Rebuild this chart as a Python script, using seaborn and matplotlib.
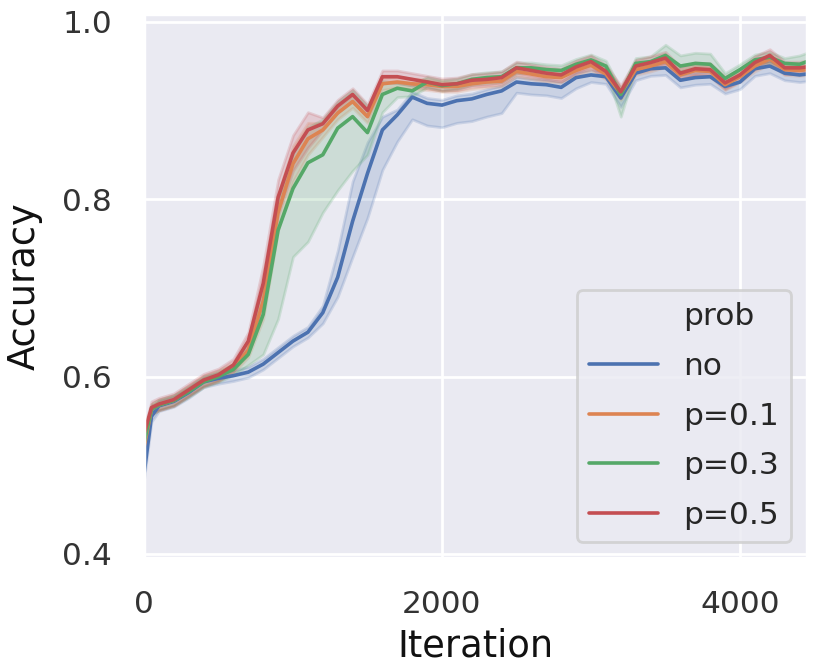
import matplotlib
matplotlib.use("Agg")
import matplotlib.pyplot as plt
from matplotlib.lines import Line2D
import pandas as pd
import seaborn as sns

# values
iterations = [0, 50, 100, 200, 300, 400, 500, 600, 700, 800, 900, 1000, 1100, 1200,
              1300, 1400, 1500, 1600, 1700, 1800, 1900, 2000, 2100, 2200, 2300, 2400,
              2500, 2600, 2700, 2800, 2900, 3000, 3100, 3200, 3300, 3400, 3500, 3600,
              3700, 3800, 3900, 4000, 4100, 4200, 4300, 4400, 4450]
probs = ["no", "p=0.1", "p=0.3", "p=0.5"]

no_mid = [0.490, 0.555, 0.567, 0.572, 0.582, 0.594, 0.598, 0.601, 0.605, 0.614, 0.627, 0.640,
          0.650, 0.672, 0.712, 0.775, 0.829, 0.878, 0.895, 0.915, 0.908, 0.906, 0.911, 0.913,
          0.918, 0.922, 0.932, 0.930, 0.929, 0.926, 0.937, 0.940, 0.938, 0.914, 0.942, 0.947,
          0.948, 0.934, 0.937, 0.938, 0.927, 0.932, 0.947, 0.950, 0.942, 0.940, 0.941]
no_lo = [0.484, 0.549, 0.561, 0.566, 0.576, 0.588, 0.592, 0.595, 0.599, 0.608, 0.621, 0.634,
         0.644, 0.660, 0.690, 0.735, 0.779, 0.833, 0.865, 0.890, 0.883, 0.881, 0.886, 0.888,
         0.893, 0.897, 0.920, 0.918, 0.917, 0.914, 0.925, 0.932, 0.930, 0.904, 0.934, 0.939,
         0.940, 0.926, 0.929, 0.930, 0.919, 0.924, 0.939, 0.942, 0.934, 0.932, 0.933]
no_hi = [0.496, 0.561, 0.573, 0.578, 0.588, 0.600, 0.604, 0.607, 0.611, 0.620, 0.633, 0.646,
         0.656, 0.680, 0.742, 0.820, 0.864, 0.893, 0.901, 0.921, 0.914, 0.912, 0.917, 0.919,
         0.924, 0.928, 0.938, 0.936, 0.935, 0.932, 0.943, 0.946, 0.944, 0.920, 0.948, 0.953,
         0.954, 0.940, 0.943, 0.944, 0.933, 0.938, 0.953, 0.956, 0.948, 0.946, 0.947]

p1_mid = [0.520, 0.563, 0.568, 0.573, 0.584, 0.595, 0.601, 0.610, 0.630, 0.685, 0.785, 0.840,
          0.868, 0.878, 0.897, 0.910, 0.893, 0.930, 0.932, 0.930, 0.929, 0.927, 0.927, 0.930,
          0.932, 0.933, 0.944, 0.941, 0.938, 0.937, 0.945, 0.951, 0.941, 0.919, 0.946, 0.950,
          0.955, 0.940, 0.945, 0.944, 0.929, 0.938, 0.950, 0.958, 0.946, 0.945, 0.946]
p1_lo = [0.514, 0.557, 0.562, 0.567, 0.578, 0.589, 0.595, 0.604, 0.622, 0.665, 0.765, 0.820,
         0.850, 0.870, 0.890, 0.903, 0.886, 0.923, 0.926, 0.924, 0.923, 0.921, 0.921, 0.924,
         0.926, 0.927, 0.938, 0.935, 0.932, 0.931, 0.939, 0.945, 0.935, 0.912, 0.940, 0.944,
         0.949, 0.934, 0.939, 0.938, 0.923, 0.932, 0.944, 0.952, 0.940, 0.939, 0.940]
p1_hi = [0.526, 0.569, 0.574, 0.579, 0.590, 0.601, 0.607, 0.616, 0.638, 0.705, 0.805, 0.860,
         0.886, 0.886, 0.904, 0.917, 0.900, 0.937, 0.938, 0.936, 0.935, 0.933, 0.933, 0.936,
         0.938, 0.939, 0.950, 0.947, 0.944, 0.943, 0.951, 0.957, 0.947, 0.926, 0.952, 0.956,
         0.961, 0.946, 0.951, 0.950, 0.935, 0.944, 0.956, 0.964, 0.952, 0.951, 0.952]

p3_mid = [0.525, 0.563, 0.568, 0.573, 0.583, 0.594, 0.600, 0.608, 0.625, 0.670, 0.765, 0.812,
          0.841, 0.850, 0.880, 0.893, 0.875, 0.918, 0.925, 0.922, 0.932, 0.928, 0.930, 0.935,
          0.937, 0.938, 0.948, 0.948, 0.946, 0.945, 0.952, 0.957, 0.950, 0.918, 0.953, 0.955,
          0.962, 0.950, 0.953, 0.952, 0.936, 0.946, 0.957, 0.960, 0.953, 0.952, 0.955]
p3_lo = [0.519, 0.557, 0.562, 0.567, 0.577, 0.588, 0.594, 0.602, 0.613, 0.625, 0.665, 0.735,
         0.752, 0.785, 0.810, 0.832, 0.850, 0.898, 0.915, 0.916, 0.926, 0.922, 0.924, 0.929,
         0.931, 0.932, 0.942, 0.942, 0.940, 0.939, 0.946, 0.951, 0.944, 0.893, 0.947, 0.949,
         0.956, 0.944, 0.947, 0.946, 0.930, 0.940, 0.951, 0.954, 0.947, 0.946, 0.949]
p3_hi = [0.531, 0.569, 0.574, 0.579, 0.589, 0.600, 0.606, 0.614, 0.635, 0.695, 0.800, 0.852,
         0.881, 0.890, 0.910, 0.923, 0.905, 0.933, 0.931, 0.928, 0.938, 0.934, 0.936, 0.941,
         0.943, 0.944, 0.954, 0.954, 0.952, 0.951, 0.958, 0.963, 0.956, 0.924, 0.959, 0.961,
         0.974, 0.962, 0.965, 0.964, 0.942, 0.952, 0.963, 0.966, 0.959, 0.962, 0.965]

p5_mid = [0.535, 0.565, 0.569, 0.574, 0.585, 0.596, 0.602, 0.613, 0.640, 0.705, 0.802, 0.852,
          0.878, 0.885, 0.905, 0.918, 0.900, 0.938, 0.938, 0.935, 0.932, 0.929, 0.930, 0.934,
          0.935, 0.937, 0.948, 0.945, 0.942, 0.940, 0.949, 0.955, 0.944, 0.921, 0.950, 0.954,
          0.959, 0.942, 0.947, 0.946, 0.931, 0.940, 0.954, 0.962, 0.948, 0.948, 0.949]
p5_lo = [0.528, 0.558, 0.562, 0.567, 0.578, 0.589, 0.595, 0.606, 0.630, 0.685, 0.782, 0.832,
         0.858, 0.878, 0.898, 0.911, 0.893, 0.931, 0.931, 0.928, 0.925, 0.922, 0.923, 0.927,
         0.928, 0.930, 0.941, 0.938, 0.935, 0.933, 0.942, 0.948, 0.937, 0.914, 0.943, 0.947,
         0.952, 0.935, 0.940, 0.939, 0.924, 0.933, 0.947, 0.955, 0.941, 0.941, 0.942]
p5_hi = [0.542, 0.572, 0.576, 0.581, 0.592, 0.603, 0.609, 0.620, 0.650, 0.725, 0.822, 0.872,
         0.898, 0.892, 0.912, 0.925, 0.907, 0.945, 0.945, 0.942, 0.939, 0.936, 0.937, 0.941,
         0.942, 0.944, 0.955, 0.952, 0.949, 0.947, 0.956, 0.962, 0.951, 0.928, 0.957, 0.961,
         0.966, 0.949, 0.954, 0.953, 0.938, 0.947, 0.961, 0.969, 0.955, 0.955, 0.956]

curves = {
    "no": (no_lo, no_mid, no_hi),
    "p=0.1": (p1_lo, p1_mid, p1_hi),
    "p=0.3": (p3_lo, p3_mid, p3_hi),
    "p=0.5": (p5_lo, p5_mid, p5_hi),
}

# long form: three rows per point, median = centre line, min/max = band
rows = []
for p in probs:
    for vals in curves[p]:
        for it, acc in zip(iterations, vals):
            rows.append({"Iteration": it, "Accuracy": acc, "prob": p})
df = pd.DataFrame(rows)

sns.set_theme(style="darkgrid", context="poster", palette="deep")
plt.rcParams['font.family'] = ['DejaVu Sans']

fig, ax = plt.subplots(figsize=(8.3, 6.66), dpi=100)
fig.subplots_adjust(left=0.1735, right=0.9723, bottom=0.1622, top=0.979)

sns.lineplot(data=df, x="Iteration", y="Accuracy", hue="prob", hue_order=probs,
             estimator="median", errorbar=("pi", 100), linewidth=2.6,
             ax=ax, legend=False)

ax.set_xlim(0, 4450)
ax.set_ylim(0.3955, 1.0087)
ax.set_xticks([0, 2000, 4000])
ax.set_yticks([0.4, 0.6, 0.8, 1.0])
ax.tick_params(labelsize=22.5, length=0, pad=23, labelcolor="#333333")
ax.set_xlabel("Iteration", fontsize=26.5, labelpad=6, color="#111111")
ax.set_ylabel("Accuracy", fontsize=26.5, labelpad=14, color="#111111")

# old-style legend: title shown as first entry
handles = [Line2D([], [], linestyle="none")] + list(ax.lines[:4])
ax.legend(handles, ["prob"] + probs, loc="lower right", fontsize=22.5,
          labelspacing=0.66, handlelength=2.2)

fig.savefig("out.png", dpi=100)
